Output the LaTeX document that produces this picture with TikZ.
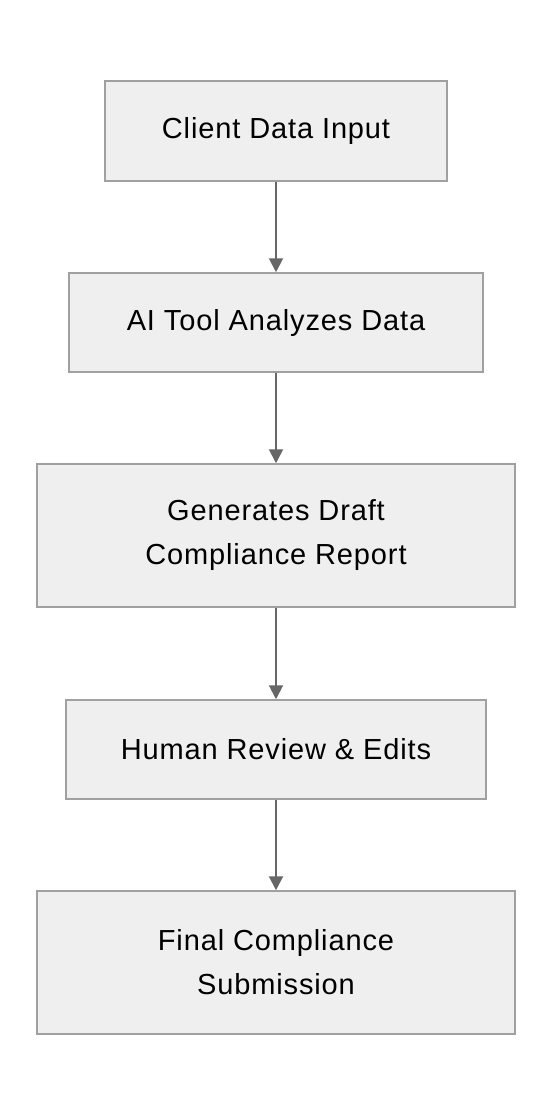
\documentclass[tikz,border=0pt]{standalone}
\usepackage{fontspec}
\setmainfont{Liberation Sans}[LetterSpace=3]
\usetikzlibrary{arrows.meta}
\definecolor{boxfill}{HTML}{EFEFEF}
\definecolor{boxline}{HTML}{A0A0A0}
\definecolor{arrowc}{HTML}{666666}
\begin{document}
\begin{tikzpicture}[x=1pt,y=-1pt,
  stepbox/.style={draw=boxline,fill=boxfill,line width=1.5pt,align=center,font=\fontsize{29}{44}\selectfont,inner sep=0pt},
  flow/.style={draw=arrowc,line width=2pt,-{Triangle[length=14pt,width=14pt]}}]
\useasboundingbox (0,0) rectangle (552,1116);
\node[stepbox,minimum width=342pt,minimum height=100pt] (a) at (276,131) {Client Data Input};
\node[stepbox,minimum width=414pt,minimum height=99pt] (b) at (276,322.5) {AI Tool Analyzes Data};
\node[stepbox,minimum width=478pt,minimum height=143pt] (c) at (276,535.5) {Generates Draft\\Compliance Report};
\node[stepbox,minimum width=420pt,minimum height=99pt] (d) at (276,749.5) {Human Review \& Edits};
\node[stepbox,minimum width=478pt,minimum height=143pt] (e) at (276,962.5) {Final Compliance\\Submission};
\draw[flow] (a) -- (b);
\draw[flow] (b) -- (c);
\draw[flow] (c) -- (d);
\draw[flow] (d) -- (e);
\end{tikzpicture}
\end{document}
